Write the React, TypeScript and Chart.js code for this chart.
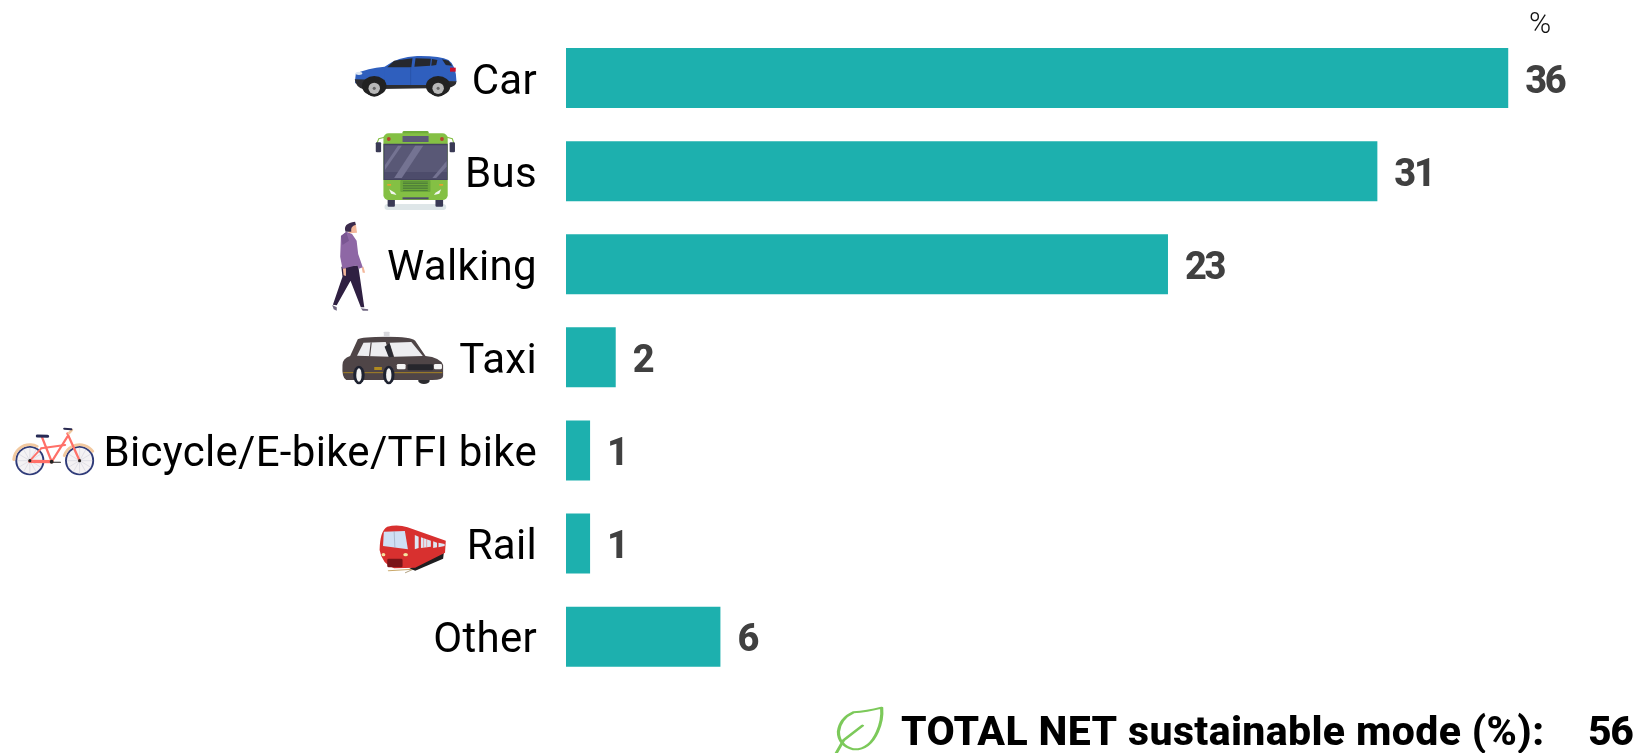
import React, { useEffect, useRef } from "react";
import { Chart, registerables } from "chart.js";

Chart.register(...registerables);

const categories = ["Car", "Bus", "Walking", "Taxi", "Bicycle/E-bike/TFI bike", "Rail", "Other"];
const barValues = [36, 31, 23, 1.9, 0.92, 0.92, 5.9];
const valueLabels = ["36", "31", "23", "2", "1", "1", "6"];
const unitLabel = "%";
const totalLabel = "TOTAL NET sustainable mode (%):";
const totalValue = "56";

const TEAL = "#1DB0AE";
const LABEL_FAMILY = "Roboto, sans-serif";

type C = CanvasRenderingContext2D;

function poly(c: C, fill: string, pts: number[]) {
  c.fillStyle = fill;
  c.beginPath();
  c.moveTo(pts[0], pts[1]);
  for (let i = 2; i < pts.length; i += 2) c.lineTo(pts[i], pts[i + 1]);
  c.closePath();
  c.fill();
}
function ell(c: C, fill: string, x: number, y: number, rx: number, ry: number) {
  c.fillStyle = fill;
  c.beginPath();
  c.ellipse(x, y, rx, ry, 0, 0, Math.PI * 2);
  c.fill();
}
function rect(c: C, fill: string, x0: number, y0: number, x1: number, y1: number, r = 0) {
  c.fillStyle = fill;
  c.beginPath();
  c.roundRect(x0, y0, x1 - x0, y1 - y0, r);
  c.fill();
}
function line(c: C, stroke: string, w: number, pts: number[]) {
  c.strokeStyle = stroke;
  c.lineWidth = w;
  c.lineCap = "round";
  c.beginPath();
  c.moveTo(pts[0], pts[1]);
  for (let i = 2; i < pts.length; i += 2) c.lineTo(pts[i], pts[i + 1]);
  c.stroke();
}

function drawCar(c: C) {
  c.fillStyle = "#2F5FBE";
  c.beginPath();
  c.moveTo(928, 240);
  c.lineTo(930, 220);
  c.quadraticCurveTo(960, 205, 1005, 200);
  c.quadraticCurveTo(1040, 170, 1090, 168);
  c.quadraticCurveTo(1150, 167, 1172, 180);
  c.quadraticCurveTo(1192, 195, 1193, 245);
  c.lineTo(928, 250);
  c.closePath();
  c.fill();
  c.fillStyle = "#2D2D30";
  c.beginPath();
  c.moveTo(927, 238);
  c.lineTo(1193, 244);
  c.quadraticCurveTo(1193, 260, 1170, 264);
  c.lineTo(950, 268);
  c.quadraticCurveTo(930, 262, 927, 238);
  c.fill();
  rect(c, "#2F5FBE", 1005, 205, 1125, 255);
  poly(c, "#26282E", [1012, 202, 1030, 182, 1078, 175, 1075, 202]);
  poly(c, "#26282E", [1086, 175, 1126, 176, 1124, 197, 1083, 200]);
  poly(c, "#26282E", [1129, 177, 1143, 180, 1140, 195, 1127, 197]);
  poly(c, "#26282E", [1155, 178, 1172, 182, 1182, 197, 1165, 195]);
  rect(c, "#C8102E", 1176, 203, 1191, 215);
  ell(c, "#DCE6F2", 938, 220, 9, 5);
  for (const x of [978, 1145]) {
    ell(c, "#222", x, 258, 32, 30);
    ell(c, "#222", x, 265, 23, 25);
    ell(c, "#B8B8B8", x, 265, 15, 17);
    ell(c, "#666", x, 265, 4, 5);
  }
  line(c, "#244C9C", 1.5, [1073, 205, 1073, 254]);
}

function drawBus(c: C) {
  rect(c, "#DEE6E8", 1005, 612, 1166, 630, 8);
  rect(c, "#3A3A55", 1013, 595, 1032, 620, 3);
  rect(c, "#3A3A55", 1138, 595, 1158, 620, 3);
  rect(c, "#6FAE3A", 1052, 393, 1120, 410, 4);
  rect(c, "#84C044", 1002, 400, 1170, 600, 14);
  line(c, "#84C044", 3, [985, 430, 990, 416, 1005, 412]);
  line(c, "#84C044", 3, [1186, 430, 1182, 416, 1168, 412]);
  rect(c, "#3A3A55", 982, 427, 996, 457, 3);
  rect(c, "#3A3A55", 1175, 427, 1189, 457, 3);
  rect(c, "#5C5A78", 1052, 408, 1120, 426);
  ell(c, "#B5442E", 1016, 417, 5, 6);
  ell(c, "#B5442E", 1155, 417, 5, 6);
  rect(c, "#43425F", 1002, 431, 1170, 540);
  rect(c, "#595876", 1005, 436, 1168, 516);
  rect(c, "#4D4C6B", 1005, 516, 1168, 537);
  poly(c, "#747392", [1006, 495, 1040, 437, 1050, 437, 1006, 510]);
  poly(c, "#747392", [1030, 534, 1085, 437, 1106, 437, 1050, 534]);
  poly(c, "#747392", [1130, 534, 1167, 483, 1167, 500, 1140, 534]);
  rect(c, "#6BA83A", 1046, 540, 1125, 576, 3);
  for (let y = 545; y < 572; y += 5) rect(c, "#45703A", 1053, y, 1118, y + 2);
  rect(c, "#E6A030", 1012, 552, 1022, 557);
  rect(c, "#E6A030", 1148, 552, 1158, 557);
  poly(c, "#F2F6F0", [1017, 568, 1032, 578, 1036, 585, 1022, 581]);
  poly(c, "#F2F6F0", [1153, 568, 1138, 578, 1134, 585, 1148, 581]);
  rect(c, "#4D4C6B", 1052, 592, 1120, 598);
}

function drawWalker(c: C) {
  poly(c, "#F3B79A", [905, 675, 930, 672, 933, 698, 912, 700]);
  c.fillStyle = "#3B2B4C";
  c.beginPath();
  c.moveTo(903, 695);
  c.quadraticCurveTo(895, 670, 928, 665);
  c.lineTo(930, 674);
  c.quadraticCurveTo(915, 678, 918, 695);
  c.closePath();
  c.fill();
  poly(c, "#2F2042", [892, 800, 936, 796, 952, 922, 943, 922, 916, 842, 880, 916, 870, 914, 895, 830]);
  poly(c, "#6F6680", [868, 915, 880, 922, 880, 932, 872, 928]);
  poly(c, "#6F6680", [943, 925, 962, 928, 962, 932, 948, 932]);
  poly(c, "#F3B79A", [896, 805, 904, 805, 904, 828, 898, 826]);
  poly(c, "#F3B79A", [945, 802, 950, 800, 954, 818, 948, 818]);
  poly(c, "#8E67A5", [891, 708, 905, 695, 920, 702, 932, 722, 936, 762, 948, 802, 938, 806, 933, 796, 895, 806, 889, 770]);
  poly(c, "#7A5692", [891, 708, 905, 696, 912, 722, 895, 735]);
}

function drawTaxi(c: C) {
  ell(c, "#2C2C30", 1108, 182, 15, 10);
  c.fillStyle = "#4F4547";
  c.beginPath();
  c.moveTo(895, 135);
  c.quadraticCurveTo(895, 115, 915, 108);
  c.lineTo(935, 58);
  c.quadraticCurveTo(945, 50, 1010, 50);
  c.quadraticCurveTo(1075, 50, 1085, 62);
  c.lineTo(1112, 108);
  c.quadraticCurveTo(1150, 112, 1158, 135);
  c.lineTo(1158, 168);
  c.quadraticCurveTo(1158, 180, 1130, 180);
  c.lineTo(905, 180);
  c.quadraticCurveTo(893, 175, 895, 135);
  c.fill();
  rect(c, "#D8D8DC", 1003, 35, 1018, 50, 2);
  poly(c, "#EDEDF0", [933, 107, 950, 68, 1008, 66, 1020, 110]);
  poly(c, "#EDEDF0", [1018, 68, 1075, 66, 1105, 108, 1030, 110]);
  line(c, "#4F4547", 3, [970, 68, 966, 108]);
  poly(c, "#2A2A32", [1005, 80, 1018, 70, 1028, 110, 1016, 112]);
  rect(c, "#F4F4F4", 1037, 132, 1060, 148, 4);
  rect(c, "#F4F4F4", 1134, 132, 1155, 148, 4);
  rect(c, "#26262C", 1065, 133, 1132, 151, 3);
  line(c, "#B08A20", 2.5, [898, 158, 1155, 158]);
  rect(c, "#B08A20", 978, 141, 998, 150);
  for (const x of [938, 1016]) {
    ell(c, "#1E2230", x, 165, 15, 28);
    ell(c, "#F4F4F4", x, 165, 7, 20);
  }
}

function drawBike(c: C) {
  for (const x of [78, 208]) {
    ell(c, "#2E3A78", x, 422, 38, 44);
    ell(c, "#F4F2F4", x, 422, 33, 39);
    for (let a = 0; a < 6; a++) {
      const t = (a * Math.PI) / 6;
      line(c, "#BBBBCC", 1, [x - 33 * Math.cos(t), 422 - 39 * Math.sin(t), x + 33 * Math.cos(t), 422 + 39 * Math.sin(t)]);
    }
  }
  c.strokeStyle = "#F2C9A0";
  c.lineWidth = 8;
  c.beginPath();
  c.ellipse(78, 422, 42, 48, 0, Math.PI * 1.02, Math.PI * 1.65);
  c.stroke();
  c.beginPath();
  c.ellipse(208, 422, 42, 48, 0, Math.PI * 1.1, Math.PI * 1.8);
  c.stroke();
  line(c, "#FF7068", 6, [110, 352, 135, 425]);
  line(c, "#FF7068", 6, [176, 350, 135, 425]);
  line(c, "#FF7068", 6, [108, 385, 170, 375]);
  line(c, "#FF7068", 5, [108, 385, 78, 422]);
  line(c, "#FF7068", 10, [78, 424, 135, 425]);
  line(c, "#FF7068", 6, [176, 340, 208, 422]);
  line(c, "#F2C9A0", 7, [180, 340, 188, 330]);
  line(c, "#2A2A50", 6, [168, 326, 186, 328]);
  line(c, "#262A55", 9, [98, 348, 124, 349]);
  ell(c, "#222", 78, 422, 4, 5);
  ell(c, "#222", 208, 422, 4, 5);
  ell(c, "#222", 135, 425, 5, 6);
  line(c, "#222", 3, [140, 427, 158, 427]);
}

function drawTrain(c: C) {
  line(c, "#C9A86A", 3, [1015, 752, 1090, 747]);
  line(c, "#B0A080", 3, [1060, 758, 1155, 708]);
  poly(c, "#1E1E20", [1070, 745, 1160, 698, 1158, 716, 1085, 752]);
  c.fillStyle = "#D8302F";
  c.beginPath();
  c.moveTo(992, 690);
  c.quadraticCurveTo(993, 632, 1012, 620);
  c.quadraticCurveTo(1040, 612, 1065, 622);
  c.lineTo(1165, 662);
  c.lineTo(1163, 698);
  c.lineTo(1085, 743);
  c.lineTo(1030, 745);
  c.quadraticCurveTo(998, 732, 992, 690);
  c.fill();
  poly(c, "#CFE0F5", [1003, 635, 1058, 633, 1066, 688, 1001, 678]);
  line(c, "#8A9AB0", 1.5, [1030, 634, 1032, 682]);
  rect(c, "#7A1418", 1012, 716, 1052, 742, 4);
  ell(c, "#F4E4A0", 1002, 704, 5, 5);
  ell(c, "#F4E4A0", 1060, 704, 6, 5);
  poly(c, "#DDE6F2", [1084, 645, 1094, 650, 1094, 684, 1084, 688]);
  poly(c, "#DDE6F2", [1100, 652, 1126, 662, 1126, 680, 1100, 684]);
  poly(c, "#DDE6F2", [1132, 664, 1142, 668, 1142, 682, 1132, 684]);
  poly(c, "#DDE6F2", [1146, 668, 1162, 672, 1162, 678, 1146, 682]);
  line(c, "#F06060", 1.5, [1107, 655, 1107, 682]);
  line(c, "#F06060", 1.5, [1115, 658, 1115, 682]);
}

function drawLeaf(c: C) {
  c.strokeStyle = "#7CC95A";
  c.lineWidth = 6;
  c.lineCap = "round";
  c.beginPath();
  c.moveTo(153, 143);
  c.quadraticCurveTo(125, 155, 100, 157);
  c.quadraticCurveTo(75, 175, 72, 215);
  c.quadraticCurveTo(72, 255, 100, 268);
  c.quadraticCurveTo(130, 270, 145, 215);
  c.quadraticCurveTo(155, 180, 153, 143);
  c.stroke();
  c.beginPath();
  c.moveTo(117, 197);
  c.lineTo(82, 240);
  c.lineTo(68, 279);
  c.stroke();
}

function frame(c: C, ox: number, oy: number, sx: number, sy: number, fn: (c: C) => void) {
  c.save();
  c.translate(ox, oy);
  c.scale(sx, sy);
  fn(c);
  c.restore();
}

const overlay = {
  id: "overlay",
  beforeDraw(chart: any) {
    chart.ctx.letterSpacing = "0.3px";
  },
  afterDatasetsDraw(chart: any) {
    const c: C = chart.ctx;
    c.save();
    c.letterSpacing = "-2.4px";
    c.textBaseline = "middle";
    c.textAlign = "left";
    const meta = chart.getDatasetMeta(0);
    c.fillStyle = "#404040";
    c.font = `800 38px ${LABEL_FAMILY}`;
    meta.data.forEach((bar: any, i: number) => {
      c.fillText(valueLabels[i], bar.x + 17, bar.y + 5);
    });
    c.letterSpacing = "0px";
    c.fillStyle = "#111";
    c.font = `300 30px ${LABEL_FAMILY}`;
    c.fillText(unitLabel, 1529, 25);
    c.fillStyle = "#000";
    c.font = `800 41px ${LABEL_FAMILY}`;
    c.letterSpacing = "0.36px";
    c.fillText(totalLabel, 901, 735);
    c.letterSpacing = "-1.4px";
    c.fillText(totalValue, 1588, 735);
    c.restore();

    const sx1 = 600 / 1568;
    const sy = 1 / 3;
    frame(c, 0, 0, sx1, sy, drawCar);
    frame(c, 0, 0, sx1, sy, drawBus);
    frame(c, 0, 0, sx1, sy, drawWalker);
    frame(c, 0, 320, sx1, sy, drawTaxi);
    frame(c, 0, 320, sx1, sy, drawBike);
    frame(c, 0, 320, sx1, sy, drawTrain);
    frame(c, 800, 660, 837 / 1568, sy, drawLeaf);
  },
};

export default function App() {
  const ref = useRef<HTMLCanvasElement>(null);
  useEffect(() => {
    document.body.style.margin = "0";
    const chart = new Chart(ref.current!, {
      type: "bar",
      data: {
        labels: categories,
        datasets: [
          {
            data: barValues,
            backgroundColor: TEAL,
            borderWidth: 0,
            barPercentage: 60 / 93.1,
            categoryPercentage: 1,
          },
        ],
      },
      options: {
        indexAxis: "y",
        responsive: false,
        animation: false,
        layout: { autoPadding: false, padding: { top: 31.5, bottom: 69.8, left: 0, right: 0 } },
        plugins: { legend: { display: false }, title: { display: false }, tooltip: { enabled: false } },
        scales: {
          x: { display: false, min: 0, max: 40.92 },
          y: {
            afterFit(scale: any) {
              scale.width = 566;
              scale.paddingTop = 0;
              scale.paddingBottom = 0;
            },
            grid: { display: false, drawTicks: false },
            border: { display: false },
            ticks: {
              color: "#000",
              padding: 29,
              labelOffset: 5,
              autoSkip: false,
              font: { family: LABEL_FAMILY, size: 42, weight: "400" },
            },
          },
        },
      },
      plugins: [overlay],
    } as any);
    return () => chart.destroy();
  }, []);
  return (
    <div style={{ position: "fixed", left: 0, top: 0, width: 1637, height: 753 }}>
      <canvas ref={ref} width={1637} height={753} style={{ display: "block" }} />
    </div>
  );
}
